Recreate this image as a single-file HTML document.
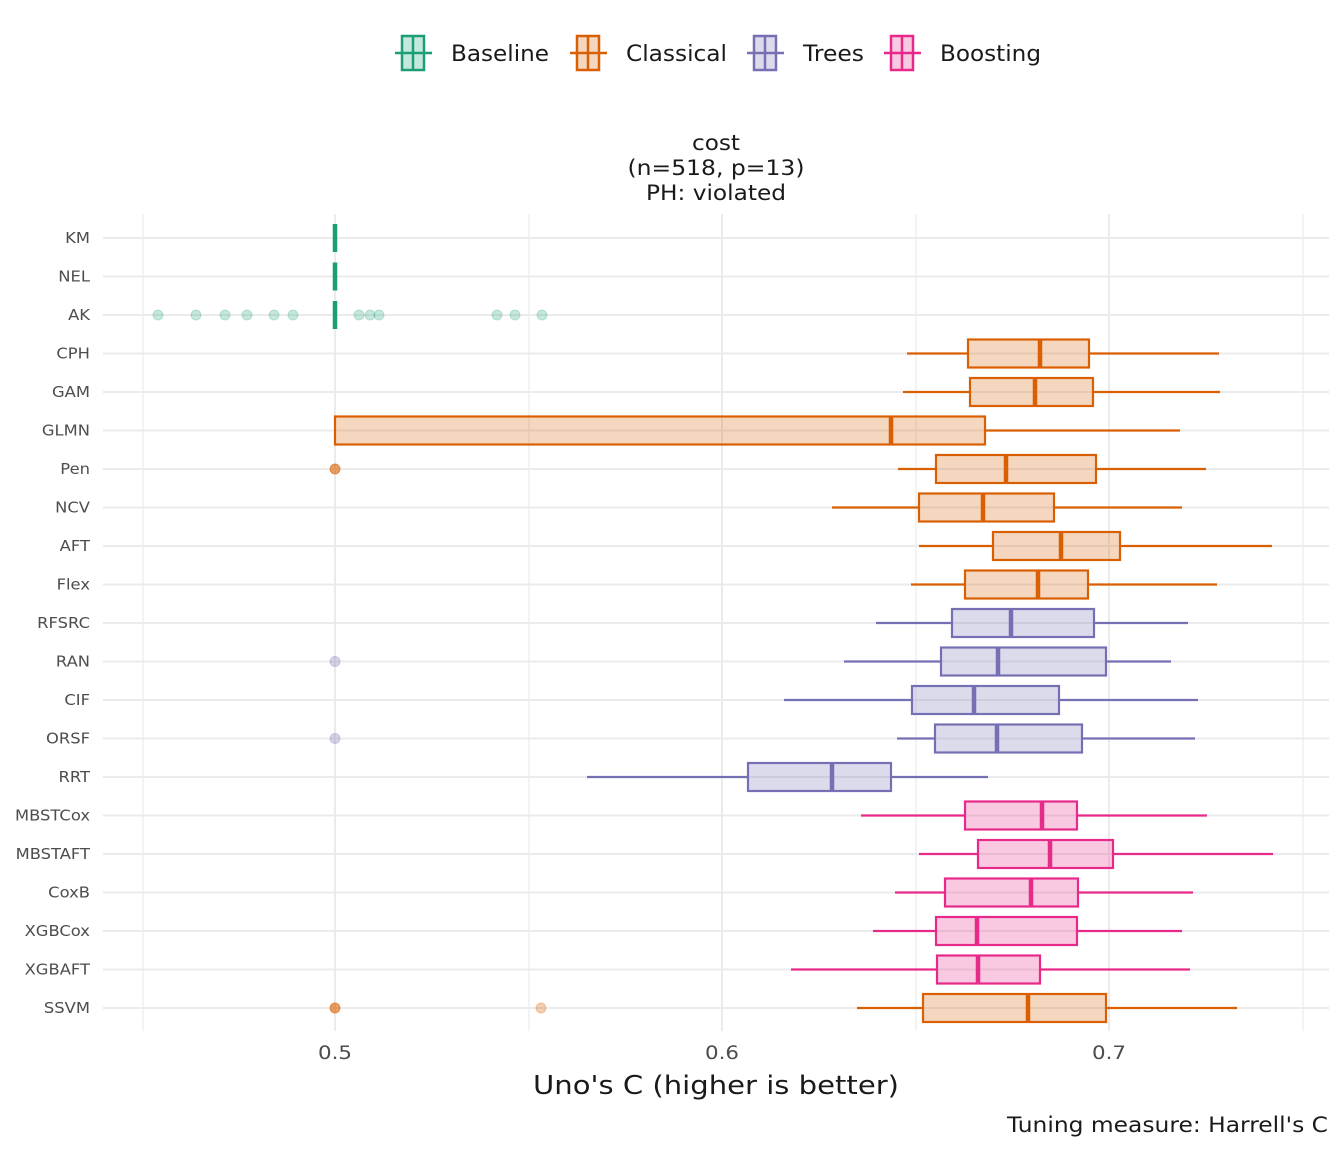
<!DOCTYPE html>
<html><head><meta charset="utf-8"><style>
html,body{margin:0;padding:0;background:#fff;}
svg{display:block;font-family:"DejaVu Sans","Liberation Sans",sans-serif;}
</style></head><body>
<svg width="1344" height="1152" viewBox="0 0 1344 1152" xmlns="http://www.w3.org/2000/svg">
<rect width="1344" height="1152" fill="#fff"/>
<!-- legend -->
<g font-size="22" fill="#1a1a1a">
<g stroke="#1b9e77" stroke-width="2.5"><line x1="395" y1="53" x2="432" y2="53"/><rect x="402" y="36" width="22" height="34" fill="#1b9e77" fill-opacity="0.25"/><line x1="413" y1="36" x2="413" y2="70"/></g>
<text x="451" y="61" textLength="98" lengthAdjust="spacingAndGlyphs">Baseline</text>
<g stroke="#d95f02" stroke-width="2.5"><line x1="570" y1="53" x2="607" y2="53"/><rect x="577" y="36" width="22" height="34" fill="#d95f02" fill-opacity="0.25"/><line x1="588" y1="36" x2="588" y2="70"/></g>
<text x="626" y="61" textLength="101" lengthAdjust="spacingAndGlyphs">Classical</text>
<g stroke="#7570b3" stroke-width="2.5"><line x1="747" y1="53" x2="784" y2="53"/><rect x="754" y="36" width="22" height="34" fill="#7570b3" fill-opacity="0.25"/><line x1="765" y1="36" x2="765" y2="70"/></g>
<text x="803" y="61" textLength="61" lengthAdjust="spacingAndGlyphs">Trees</text>
<g stroke="#e7298a" stroke-width="2.5"><line x1="884" y1="53" x2="921" y2="53"/><rect x="891" y="36" width="22" height="34" fill="#e7298a" fill-opacity="0.25"/><line x1="902" y1="36" x2="902" y2="70"/></g>
<text x="940" y="61" textLength="101" lengthAdjust="spacingAndGlyphs">Boosting</text>
</g>
<!-- title -->
<g font-size="21" fill="#1a1a1a" text-anchor="middle" lengthAdjust="spacingAndGlyphs">
<text x="716" y="150" textLength="48" lengthAdjust="spacingAndGlyphs">cost</text>
<text x="716" y="175" textLength="177" lengthAdjust="spacingAndGlyphs">(n=518, p=13)</text>
<text x="716" y="200" textLength="140" lengthAdjust="spacingAndGlyphs">PH: violated</text>
</g>
<!-- grid -->
<g stroke="#ebebeb">
<line x1="143" y1="214" x2="143" y2="1031" stroke-width="1.2"/>
<line x1="529" y1="214" x2="529" y2="1031" stroke-width="1.2"/>
<line x1="916" y1="214" x2="916" y2="1031" stroke-width="1.2"/>
<line x1="1303" y1="214" x2="1303" y2="1031" stroke-width="1.2"/>
<line x1="335" y1="214" x2="335" y2="1031" stroke-width="2"/>
<line x1="722" y1="214" x2="722" y2="1031" stroke-width="2"/>
<line x1="1109" y1="214" x2="1109" y2="1031" stroke-width="2"/>
</g>
<g id="hg" stroke="#ebebeb" stroke-width="2"></g>
<g id="plot"></g>
<g id="ylab" font-size="15" fill="#4d4d4d" text-anchor="end"></g>
<g font-size="19" fill="#4d4d4d" text-anchor="middle">
<text x="335" y="1059" textLength="34" lengthAdjust="spacingAndGlyphs">0.5</text><text x="722" y="1059" textLength="34" lengthAdjust="spacingAndGlyphs">0.6</text><text x="1109" y="1059" textLength="34" lengthAdjust="spacingAndGlyphs">0.7</text>
</g>
<text x="716" y="1094" font-size="26" fill="#1a1a1a" text-anchor="middle" textLength="366" lengthAdjust="spacingAndGlyphs">Uno's C (higher is better)</text>
<text x="1328" y="1132" font-size="21" fill="#1a1a1a" text-anchor="end" textLength="321" lengthAdjust="spacingAndGlyphs">Tuning measure: Harrell's C</text>
<script>
var NS="http://www.w3.org/2000/svg";
function el(p,t,a){var e=document.createElementNS(NS,t);for(var k in a)e.setAttribute(k,a[k]);p.appendChild(e);return e;}
var C={b:"#1b9e77",c:"#d95f02",t:"#7570b3",x:"#e7298a"};
var rows=[
["KM","b",null],["NEL","b",null],["AK","b",null],
["CPH","c",[907,968,1040,1089,1219]],
["GAM","c",[903,970,1035,1093,1220]],
["GLMN","c",[335,335,891,985,1180]],
["Pen","c",[898,936,1006,1096,1206],[[335,0.6]]],
["NCV","c",[832,919,983,1054,1182]],
["AFT","c",[919,993,1061,1120,1272]],
["Flex","c",[911,965,1038,1088,1217]],
["RFSRC","t",[876,952,1011,1094,1188]],
["RAN","t",[844,941,998,1106,1171],[[335,0.3]]],
["CIF","t",[784,912,974,1059,1198]],
["ORSF","t",[897,935,997,1082,1195],[[335,0.3]]],
["RRT","t",[587,748,832,891,988]],
["MBSTCox","x",[861,965,1042,1077,1207]],
["MBSTAFT","x",[919,978,1050,1113,1273]],
["CoxB","x",[895,945,1031,1078,1193]],
["XGBCox","x",[873,936,977,1077,1182]],
["XGBAFT","x",[791,937,978,1040,1190]],
["SSVM","c",[857,923,1028,1106,1237],[[335,0.6],[541,0.3]]]
];
var hg=document.getElementById("hg"),pl=document.getElementById("plot"),yl=document.getElementById("ylab");
rows.forEach(function(r,i){
 var y=238+i*38.5,col=C[r[1]];
 el(hg,"line",{x1:103,x2:1329,y1:y,y2:y});
 var t=el(yl,"text",{x:90,y:y+5});t.textContent=r[0];
 try{var w=t.getComputedTextLength();t.setAttribute("textLength",(w*1.09).toFixed(1));t.setAttribute("lengthAdjust","spacingAndGlyphs");}catch(e){}
 if(r[2]){var d=r[2];
  el(pl,"line",{x1:d[0],x2:d[1],y1:y,y2:y,stroke:col,"stroke-width":2.2});
  el(pl,"line",{x1:d[3],x2:d[4],y1:y,y2:y,stroke:col,"stroke-width":2.2});
  el(pl,"rect",{x:d[1],y:y-14,width:d[3]-d[1],height:28,fill:col,"fill-opacity":0.25,stroke:col,"stroke-width":2.2});
  el(pl,"line",{x1:d[2],x2:d[2],y1:y-14,y2:y+14,stroke:col,"stroke-width":4.5});
 } else {
  el(pl,"line",{x1:335,x2:335,y1:y-14,y2:y+14,stroke:col,"stroke-width":4.5});
 }
 if(r[0]=="AK"){[158,196,225,247,274,293,359,370,379,497,515,542].forEach(function(x){el(pl,"circle",{cx:x,cy:y,r:5,fill:col,"fill-opacity":0.25,stroke:col,"stroke-opacity":0.25});});}
 if(r[3])r[3].forEach(function(o){el(pl,"circle",{cx:o[0],cy:y,r:5,fill:col,"fill-opacity":o[1],stroke:col,"stroke-opacity":o[1]});});
});
</script>
</svg>
</body></html>
